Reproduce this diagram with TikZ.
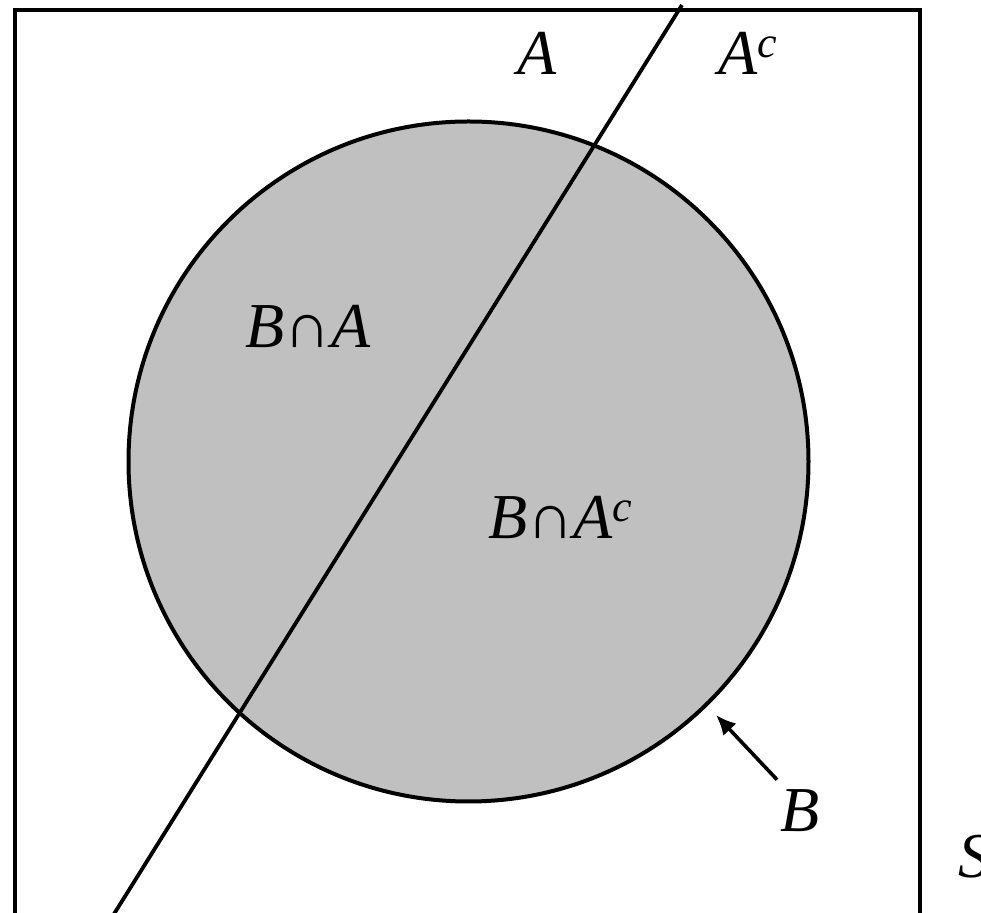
\documentclass[tikz,border=0pt]{standalone}
\usepackage{fontspec}
\setmainfont{Liberation Serif}
\usetikzlibrary{arrows.meta}
\definecolor{shade}{RGB}{192,192,192}
\newcommand{\supc}{\raisebox{0.28em}{\fontsize{22}{22}\selectfont\itshape c}}
\begin{document}
\begin{tikzpicture}[x=0.5pt,y=-0.5pt,
  lbl/.style={font=\fontsize{32}{32}\selectfont\itshape, inner sep=0pt},
  edge/.style={line width=2pt}]
\useasboundingbox (0,0) rectangle (981,913);
\clip (0,0) rectangle (981,913);
\draw[edge] (15,10) rectangle (920,950);
\node[circle, draw, fill=shade, edge, inner sep=0pt, minimum size=340pt] (circ) at (468.5,461.5) {};
\coordinate (ltop) at (682,5);
\coordinate (lbot) at (104,930);
\draw[line width=1.9pt] (ltop) -- (lbot);
\node[lbl, anchor=base] (la) at (537,75) {A};
\node[lbl, anchor=base west] (lac) at (718,75) {A\supc};
\node[lbl, anchor=base] (lba) at (308,348) {B∩A};
\node[lbl, anchor=base] (lbac) at (560,539) {B∩A\supc};
\node[lbl, anchor=base] (lb) at (800,832) {B};
\node[lbl, anchor=base west] (ls) at (958,878) {S};
\coordinate (tip) at (716,715);
\draw[line width=1.8pt, -{Latex[length=10pt,width=9pt]}] ([shift={(-3,-10)}]lb.north west) -- (tip);
\end{tikzpicture}
\end{document}
